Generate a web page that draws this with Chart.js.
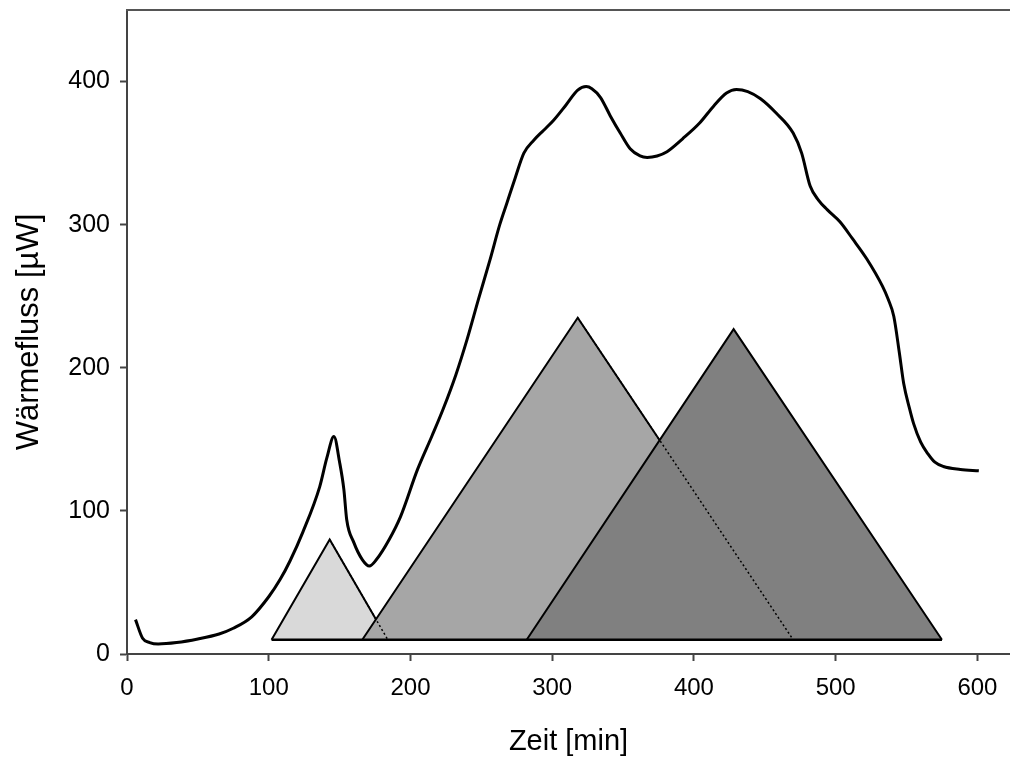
<!DOCTYPE html>
<html>
<head>
<meta charset="utf-8">
<script src="https://cdn.jsdelivr.net/npm/chart.js@4"></script>
<style>
  html, body { margin: 0; padding: 0; background: #fff; }
  #wrap { width: 1010px; height: 763px; }
</style>
</head>
<body>
<div id="wrap"><canvas id="chart"></canvas></div>
<script>
// heat flow curve (Zeit [min], Wärmefluss [µW])
const curveX = [6, 11, 16, 22, 35, 50, 65, 75, 88, 100, 108, 115, 124, 136, 141, 146, 150, 153, 155, 160, 166, 171, 176, 185, 193, 205, 215, 223, 232, 240, 248, 256, 263, 268, 274, 280, 287, 294, 301, 310, 318, 324, 328, 334, 341, 348, 355, 362, 367, 374, 381, 392, 404, 414, 423, 430, 438, 447, 458, 470, 476, 482, 488, 494, 503, 512, 522, 533, 537, 541, 545, 548, 552, 555, 560, 565, 570, 576, 588, 601];
const curveY = [24, 11, 8, 7, 8, 10.5, 14, 18, 26, 40, 52, 65, 85, 117, 137, 152, 134, 115, 94, 78, 66, 61.5, 66, 80, 96, 129, 152, 171, 195, 220, 248, 275, 300, 315, 333, 350, 359, 366, 373, 384, 394, 396.5, 395, 389, 376, 364, 353, 348, 347, 348, 351, 360, 371, 383, 392, 394.5, 393, 388, 378, 364, 350, 327, 317, 310.5, 302, 290, 276, 257, 248, 236, 210, 189, 172, 161, 148, 140, 134, 131, 129, 128];

// peak triangles: start, apex and end in minutes, apex height, base level
const triStart = [102, 166, 282];
const triApex = [143, 318, 428];
const triEnd = [184, 470, 575];
const triHeight = [80, 235, 227];
const triBase = 10;
const triColors = ['#d9d9d9', '#a6a6a6', '#808080'];

const xTicks = [0, 100, 200, 300, 400, 500, 600];
const yTicks = [0, 100, 200, 300, 400];

const curvePoints = curveX.map((x, i) => ({ x: x, y: curveY[i] }));

const triangle = i => [
  { x: triStart[i], y: triBase },
  { x: triApex[i], y: triHeight[i] },
  { x: triEnd[i], y: triBase },
];

// hidden right edges, shown dotted through the next triangle
const dottedEdge = i => [
  { x: triApex[i], y: triHeight[i] },
  { x: triEnd[i], y: triBase },
];

const baseLine = [
  { x: Math.min(...triStart), y: triBase },
  { x: Math.max(...triEnd), y: triBase },
];

const topBorder = {
  id: 'topBorder',
  afterDraw(chart) {
    const { ctx, chartArea } = chart;
    ctx.save();
    ctx.strokeStyle = '#555';
    ctx.lineWidth = 2;
    ctx.beginPath();
    ctx.moveTo(chartArea.left - 1, chartArea.top);
    ctx.lineTo(chartArea.right + 2, chartArea.top);
    ctx.stroke();
    ctx.restore();
  }
};

const triDataset = i => ({
  data: triangle(i),
  backgroundColor: triColors[i],
  borderColor: '#000',
  borderWidth: 2,
  fill: { value: triBase },
  tension: 0,
  pointRadius: 0,
});

const dotDataset = i => ({
  data: dottedEdge(i),
  borderColor: '#000',
  borderWidth: 1.5,
  borderDash: [2, 2.5],
  fill: false,
  tension: 0,
  pointRadius: 0,
});

const font = size => ({ family: 'Liberation Sans, Arial, sans-serif', size: size });

// first dataset is drawn on top
new Chart(document.getElementById('chart'), {
  type: 'line',
  data: {
    datasets: [
      dotDataset(0),
      dotDataset(1),
      {
        data: baseLine,
        borderColor: '#000',
        borderWidth: 2.5,
        fill: false,
        pointRadius: 0,
      },
      {
        data: curvePoints,
        borderColor: '#000',
        borderWidth: 3,
        fill: false,
        cubicInterpolationMode: 'monotone',
        pointRadius: 0,
      },
      triDataset(2),
      triDataset(1),
      triDataset(0),
    ]
  },
  options: {
    responsive: true,
    maintainAspectRatio: false,
    animation: false,
    layout: { padding: { top: 10, right: 0, left: 0, bottom: 0 } },
    plugins: {
      legend: { display: false },
      tooltip: { enabled: false },
    },
    scales: {
      x: {
        type: 'linear',
        min: 0,
        max: 623,
        afterFit: s => { s.height = 109; s.paddingRight = 0; },
        afterBuildTicks: s => { s.ticks = xTicks.map(v => ({ value: v })); },
        grid: { drawOnChartArea: false, drawTicks: true, tickLength: 7, tickColor: '#444', tickWidth: 2 },
        border: { color: '#444', width: 2 },
        ticks: {
          color: '#000',
          padding: 13,
          maxRotation: 0,
          font: font(24),
        },
        title: {
          display: true,
          text: 'Zeit [min]',
          color: '#000',
          padding: { top: 0, bottom: 4 },
          font: font(29),
        },
      },
      y: {
        min: 0,
        max: 450,
        afterFit: s => { s.width = 127; s.paddingTop = 0; s.paddingBottom = 0; },
        afterBuildTicks: s => { s.ticks = yTicks.map(v => ({ value: v })); },
        grid: { drawOnChartArea: false, drawTicks: true, tickLength: 7, tickColor: '#444', tickWidth: 2 },
        border: { color: '#444', width: 2 },
        ticks: {
          color: '#000',
          padding: 10,
          font: font(25),
        },
        title: {
          display: true,
          text: 'Wärmefluss [µW]',
          color: '#000',
          padding: { top: 11, bottom: 0 },
          font: font(31),
        },
      },
    },
  },
  plugins: [topBorder],
});
</script>
</body>
</html>
